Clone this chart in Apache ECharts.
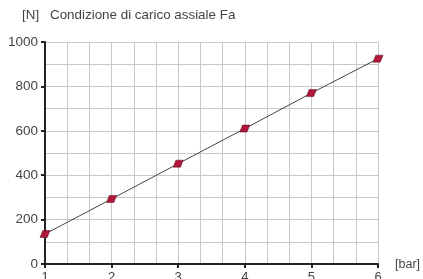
<!DOCTYPE html>
<html>
<head>
<meta charset="utf-8">
<script src="https://cdn.jsdelivr.net/npm/echarts@6/dist/echarts.min.js"></script>
<style>
  html, body { margin: 0; padding: 0; background: #fff; }
  #chart { width: 423px; height: 279px; }
</style>
</head>
<body>
<div id="chart"></div>
<script>
// pressione [bar] -> forza [N]
const pressure = [1, 2, 3, 4, 5, 6]
const force = [135, 293, 452, 610, 770, 925]

const chart = echarts.init(document.getElementById('chart'))

const txt = { fontWeight: 'normal', color: '#444', fontFamily: 'Liberation Sans' }

const option = {
  animation: false,
  title: [{
    text: '[N]',
    left: 22,
    top: 9,
    padding: 0,
    textStyle: Object.assign({ fontSize: 13.4 }, txt)
  }, {
    text: 'Condizione di carico assiale Fa',
    left: 50,
    top: 9,
    padding: 0,
    textStyle: Object.assign({ fontSize: 13.4 }, txt)
  }, {
    text: '[bar]',
    left: 395,
    top: 258,
    padding: 0,
    textStyle: Object.assign({ fontSize: 12.5 }, txt)
  }],
  grid: {
    left: 45,
    right: 45,
    top: 42,
    bottom: 15,
    outerBoundsMode: 'none'
  },
  xAxis: {
    type: 'value',
    min: 1,
    max: 6,
    interval: 1,
    axisLine: { show: true, onZero: false, lineStyle: { color: '#222', width: 2 } },
    axisTick: { show: true, length: 4, lineStyle: { color: '#222', width: 2 } },
    axisLabel: Object.assign({ fontSize: 13, margin: 7 }, txt),
    splitLine: { show: true, lineStyle: { color: '#c8c8c8', width: 1 } },
    minorTick: { show: false, splitNumber: 3 },
    minorSplitLine: { show: true, lineStyle: { color: '#c8c8c8', width: 1 } }
  },
  yAxis: {
    type: 'value',
    min: 0,
    max: 1000,
    interval: 200,
    axisLine: { show: true, lineStyle: { color: '#222', width: 2 } },
    axisTick: { show: true, length: 4, lineStyle: { color: '#222', width: 2 } },
    axisLabel: Object.assign({ fontSize: 13.5, margin: 7, formatter: v => String(v) }, txt),
    splitLine: { show: true, lineStyle: { color: '#c8c8c8', width: 1 } },
    minorTick: { show: false, splitNumber: 2 },
    minorSplitLine: { show: true, lineStyle: { color: '#c8c8c8', width: 1 } }
  },
  series: [{
    type: 'line',
    data: pressure.map((p, i) => [p, force[i]]),
    symbol: 'path://M3,0 L11,0 L8,7 L0,7 Z',
    symbolSize: [10, 7],
    lineStyle: { color: '#444', width: 1 },
    itemStyle: { color: '#b0173a', borderColor: '#5a1020', borderWidth: 0.5 },
    z: 5
  }]
}

chart.setOption(option)
</script>
</body>
</html>
